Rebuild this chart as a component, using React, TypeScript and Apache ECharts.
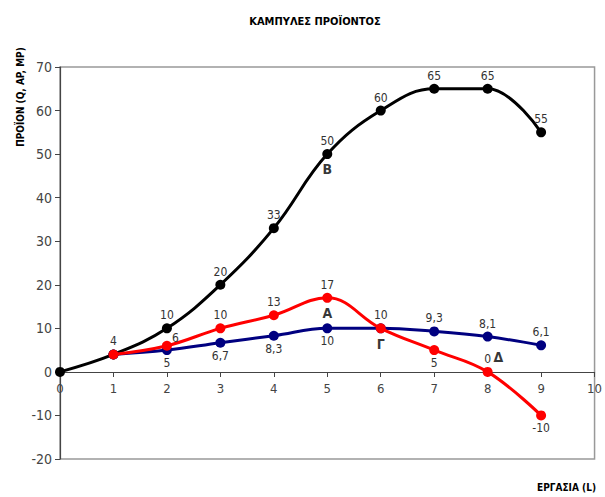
import React, { useEffect, useRef } from "react";
import * as echarts from "echarts";

const labor = [0, 1, 2, 3, 4, 5, 6, 7, 8, 9];
const totalProduct = [0, 4, 10, 20, 33, 50, 60, 65, 65, 55];
const avgProduct = [null, 4, 6, 10, 13, 17, 10, 5, 0, -10];
const margProduct = [null, 4, 5, 6.7, 8.3, 10, 10, 9.3, 8.1, 6.1];
const pointLetters = [
  { x: 5, y: 13.5, t: "A" },
  { x: 5, y: 46.5, t: "B" },
  { x: 6, y: 6.5, t: "Γ" },
  { x: 8.2, y: 3.4, t: "Δ" },
];

const FONT = "DejaVu Sans Condensed";
const BOLD_FONT = "DejaVu Sans Condensed";

// label placement per point (index-aligned)
const qPos = [null, "top", "top", "top", "top", "top", "top", "top", "top", "top"];
const apPos = [null, null, "right", "top", "top", "top", "top", "bottom", "top", "bottom"];
const mpPos = [null, null, "bottom", "bottom", "bottom", "bottom", null, "top", "top", "top"];

const fmt = (v: number) => String(v).replace(".", ",");

function build(vals: (number | null)[], pos: (string | null)[]) {
  return labor.map((x, i) => {
    const v = vals[i];
    if (v === null) return [x, null];
    const p = pos[i];
    return {
      value: [x, v],
      label: p
        ? {
            show: true,
            position: p,
            distance: 2,
            offset: p === "right" ? [-2, -8] : [0, 0],
            formatter: () => fmt(v),
            color: "#333",
            fontSize: 12,
            fontFamily: FONT,
          }
        : { show: false },
    };
  });
}

export default function App() {
  const ref = useRef<HTMLDivElement>(null);
  useEffect(() => {
    const chart = echarts.init(ref.current!, undefined, { renderer: "svg" });
    const common = {
      type: "line",
      smooth: 0.4,
      symbol: "circle",
      symbolSize: 10,
      connectNulls: false,
    };
    chart.setOption({
      animation: false,
      backgroundColor: "#fff",
      title: {
        text: "ΚΑΜΠΥΛΕΣ ΠΡΟΪΟΝΤΟΣ",
        left: 310,
        textAlign: "center",
        top: 11,
        textStyle: { fontSize: 11, fontWeight: "bold", color: "#000", fontFamily: BOLD_FONT },
      },
      grid: { left: 60, right: 8, top: 67, bottom: 38, show: true, borderColor: "#999", borderWidth: 1.5 },
      xAxis: {
        type: "value",
        min: 0,
        max: 10,
        interval: 1,
        offset: -87,
        axisLine: { onZero: false, lineStyle: { color: "#444", width: 1.2 } },
        axisTick: { show: true, length: 5, lineStyle: { color: "#444" } },
        axisLabel: { color: "#444", fontSize: 13, fontFamily: FONT, margin: 10 },
        splitLine: { show: false },
      },
      yAxis: {
        type: "value",
        min: -20,
        max: 70,
        interval: 10,
        axisLine: { show: true, lineStyle: { color: "#444", width: 1.2 } },
        axisTick: { show: true, length: 5, lineStyle: { color: "#444" } },
        axisLabel: { color: "#444", fontSize: 14, fontFamily: FONT, margin: 8 },
        splitLine: { show: false },
      },
      graphic: [
        {
          type: "text",
          x: 20,
          y: 97,
          rotation: Math.PI / 2,
          style: {
            text: "ΠΡΟΪΟΝ (Q, AP, MP)",
            fontSize: 10,
            fontWeight: "bold",
            fill: "#000",
            fontFamily: BOLD_FONT,
            align: "center",
            verticalAlign: "middle",
          },
        },
        {
          type: "text",
          x: 596,
          y: 487,
          style: {
            text: "ΕΡΓΑΣΙΑ (L)",
            fontSize: 10,
            fontWeight: "bold",
            fill: "#000",
            fontFamily: BOLD_FONT,
            align: "right",
            verticalAlign: "middle",
          },
        },
      ],
      series: [
        {
          ...common,
          name: "Q",
          color: "#000",
          lineStyle: { width: 3, color: "#000" },
          data: build(totalProduct, qPos),
          z: 3,
        },
        {
          ...common,
          name: "MP",
          color: "#000080",
          lineStyle: { width: 3, color: "#000080" },
          data: build(margProduct, mpPos),
          z: 4,
        },
        {
          ...common,
          name: "AP",
          color: "#ff0000",
          lineStyle: { width: 3, color: "#ff0000" },
          data: build(avgProduct, apPos),
          z: 5,
        },
        {
          type: "scatter",
          name: "letters",
          symbolSize: 0,
          data: pointLetters.map((p) => ({ value: [p.x, p.y], name: p.t })),
          label: {
            show: true,
            position: "inside",
            formatter: (p: any) => p.name,
            fontSize: 14,
            fontWeight: "bold",
            color: "#000",
            fontFamily: BOLD_FONT,
          },
          z: 6,
        },
      ],
    });
    return () => chart.dispose();
  }, []);
  return <div ref={ref} style={{ position: "absolute", left: 0, top: 0, width: 605, height: 497 }} />;
}
